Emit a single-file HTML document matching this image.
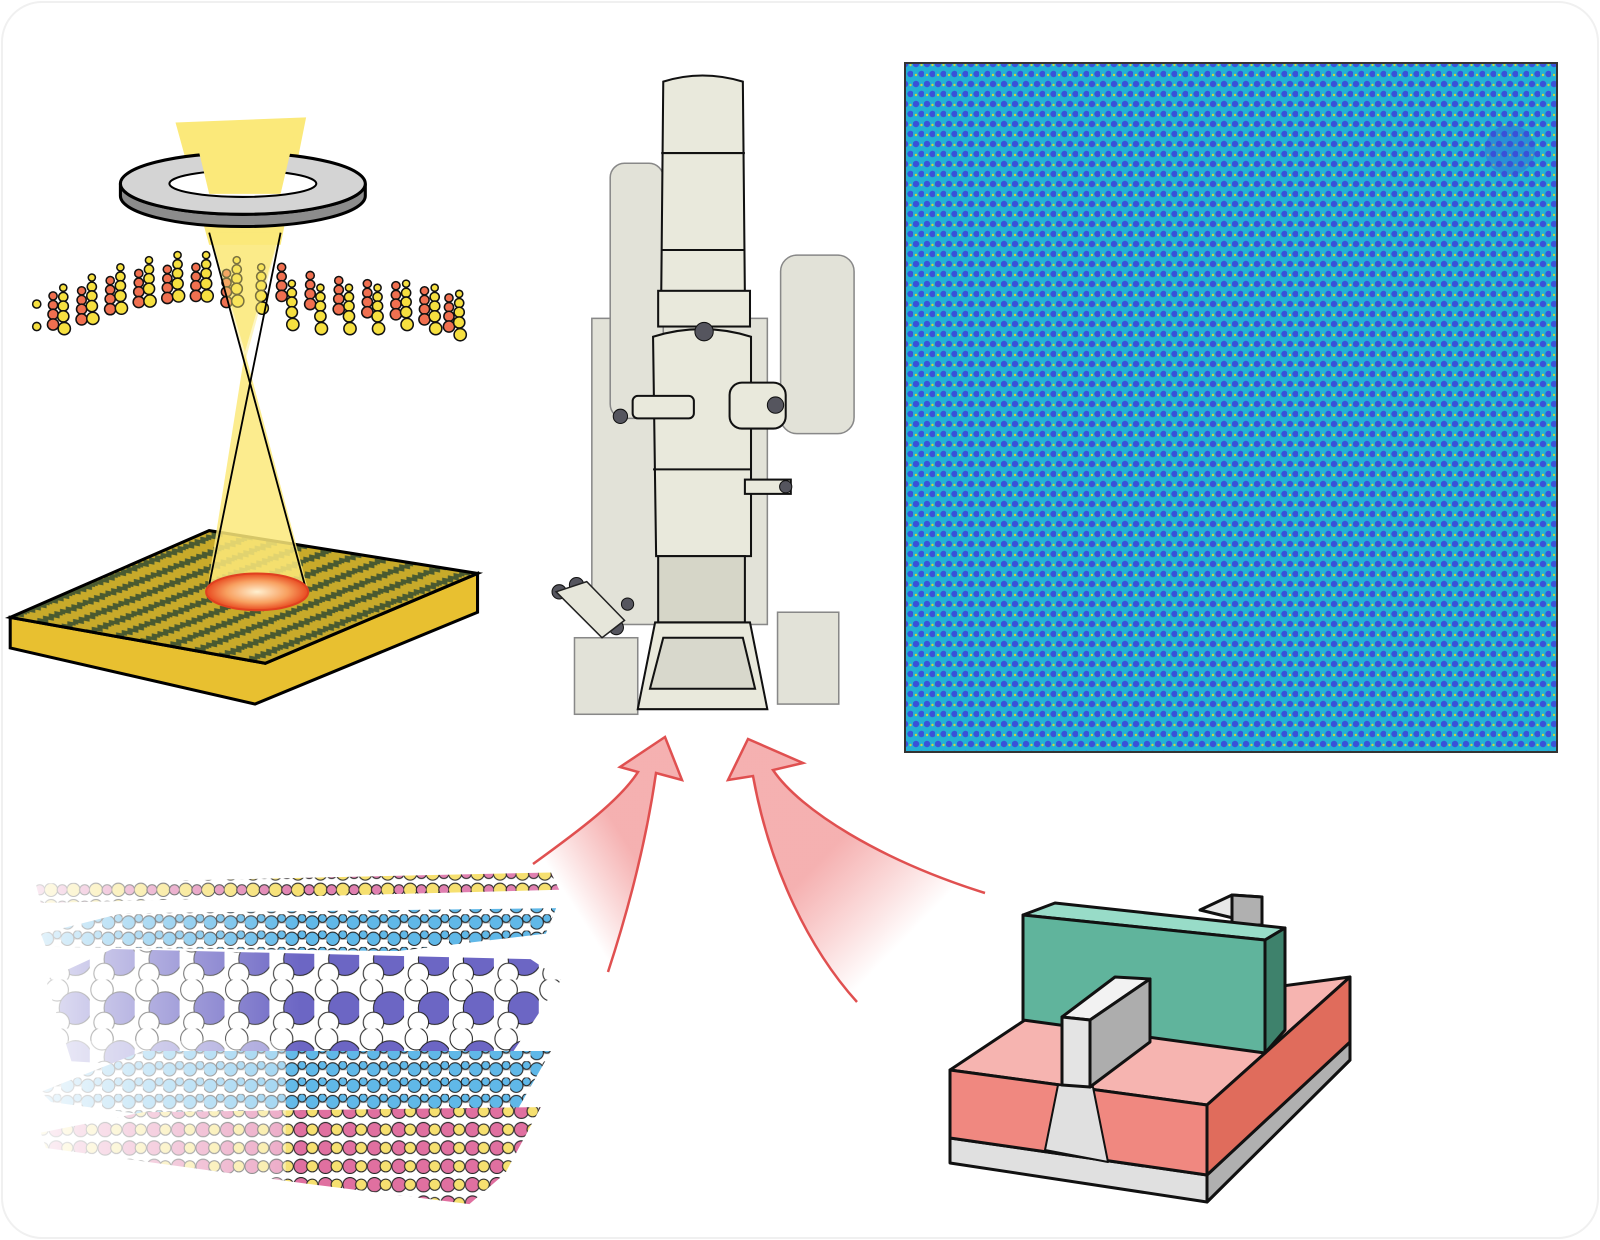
<!DOCTYPE html>
<html><head><meta charset="utf-8"><style>
html,body{margin:0;padding:0;background:#fff;width:1600px;height:1240px;overflow:hidden}
</style></head><body>
<svg width="1600" height="1240" viewBox="0 0 1600 1240" xmlns="http://www.w3.org/2000/svg">
<defs>
<pattern id="lat" width="11" height="20" patternUnits="userSpaceOnUse">
<rect width="11" height="20" fill="#22b0d6"/>
<circle cx="3" cy="4" r="3.2" fill="#3a52d8"/>
<circle cx="8.5" cy="14" r="3.2" fill="#3a52d8"/>
<circle cx="8.5" cy="5" r="1.2" fill="#c8d840"/>
<circle cx="3" cy="15" r="1.2" fill="#c8d840"/>
</pattern>
<pattern id="wave" width="24" height="14" patternUnits="userSpaceOnUse" patternTransform="rotate(-22) skewX(30)">
<rect width="24" height="14" fill="#c8aa2a"/>
<path d="M0 7 l3 -3 l3 3 l3 -3 l3 3 l3 -3 l3 3 l3-3 l3 3" stroke="#4a5a30" stroke-width="4" fill="none"/>
</pattern>
<linearGradient id="ar1" x1="0.1" y1="0.9" x2="0.8" y2="0.2"><stop offset="0.25" stop-color="#f4a0a0" stop-opacity="0"/><stop offset="0.7" stop-color="#f4a8a8" stop-opacity="0.9"/></linearGradient>
<linearGradient id="ar2" x1="0.9" y1="0.9" x2="0.2" y2="0.2"><stop offset="0.25" stop-color="#f4a0a0" stop-opacity="0"/><stop offset="0.7" stop-color="#f4a8a8" stop-opacity="0.9"/></linearGradient>
<radialGradient id="spot"><stop offset="0" stop-color="#fff0d0"/><stop offset="0.6" stop-color="#f8a060"/><stop offset="1" stop-color="#e84a20"/></radialGradient>
<g id="colR"><circle cx="0" cy="0" r="4" fill="#f07050"/><circle cx="0" cy="9" r="4.5" fill="#f07050"/><circle cx="0" cy="18" r="5" fill="#f07050"/><circle cx="0" cy="28" r="5.5" fill="#f07050"/></g>
<g id="colY"><circle cx="0" cy="0" r="3.5" fill="#f6e040"/><circle cx="0" cy="9" r="4.5" fill="#f6e040"/><circle cx="0" cy="18" r="5" fill="#f6e040"/><circle cx="0" cy="28" r="5.5" fill="#f6e040"/><circle cx="1" cy="40" r="6" fill="#f6e040"/></g>
<pattern id="pY" width="22" height="16" patternUnits="userSpaceOnUse"><rect width="22" height="16" fill="#fff"/><line x1="0" y1="8" x2="22" y2="8" stroke="#aaa" stroke-width="2"/><circle cx="6" cy="8" r="6.5" fill="#f6e070" stroke="#222"/><circle cx="17" cy="8" r="5" fill="#e080b0" stroke="#222"/></pattern>
<pattern id="pB" width="20" height="16" patternUnits="userSpaceOnUse"><rect width="20" height="16" fill="#fff"/><line x1="0" y1="8" x2="20" y2="8" stroke="#aaa" stroke-width="2"/><circle cx="6" cy="8" r="6.5" fill="#60b8e8" stroke="#222"/><circle cx="16" cy="4" r="4" fill="#60b8e8" stroke="#222"/></pattern>
<pattern id="pP" width="44" height="48" patternUnits="userSpaceOnUse"><rect width="44" height="48" fill="#fff"/><line x1="12" y1="10" x2="30" y2="28" stroke="#777" stroke-width="3"/><line x1="30" y1="28" x2="16" y2="42" stroke="#777" stroke-width="3"/><circle cx="12" cy="10" r="11" fill="#fff" stroke="#222"/><circle cx="30" cy="28" r="16" fill="#6c66c4" stroke="#222"/><circle cx="14" cy="42" r="10" fill="#fff" stroke="#222"/></pattern>
<pattern id="pK" width="24" height="18" patternUnits="userSpaceOnUse"><rect width="24" height="18" fill="#fff"/><line x1="0" y1="9" x2="24" y2="9" stroke="#aaa" stroke-width="2"/><circle cx="7" cy="9" r="7" fill="#e070a0" stroke="#222"/><circle cx="18" cy="9" r="5.5" fill="#f6e070" stroke="#222"/></pattern>
<linearGradient id="fadeL" x1="0" y1="0" x2="1" y2="0"><stop offset="0" stop-color="#fff" stop-opacity="0.85"/><stop offset="0.5" stop-color="#fff" stop-opacity="0"/></linearGradient>
</defs>
<rect x="2" y="2" width="1596" height="1236" rx="40" fill="#fff" stroke="#f0f0f0" stroke-width="2"/>

<rect x="905" y="63" width="652" height="689" fill="url(#lat)" stroke="#333" stroke-width="2"/>
<ellipse cx="1510" cy="150" rx="25" ry="25" fill="#3a52d8" opacity="0.35"/>

<g transform="scale(1.0204)">
<polygon points="10,605 10,635 250,690 468,600 468,562 260,650" fill="#e8c030" stroke="#000" stroke-width="3"/>
<polygon points="10,605 205,520 468,562 260,650" fill="url(#wave)" stroke="#000" stroke-width="3"/>
<polygon points="172,120 300,115 275,240 205,240" fill="#fbe97a"/>
<path d="M118 180 a120 30 0 0 0 240 0 l0 12 a120 30 0 0 1 -240 0 z" fill="#8c8c8c" stroke="#000" stroke-width="3"/>
<ellipse cx="238" cy="180" rx="120" ry="30" fill="#d4d4d4" stroke="#000" stroke-width="3"/>
<ellipse cx="238" cy="180" rx="72" ry="13" fill="#fff" stroke="#000" stroke-width="2"/>
<polygon points="190,128 290,126 275,190 205,190" fill="#fbe97a"/>
<polygon points="205,225 275,225 240,345" fill="#fbe97a" opacity="0.8"/>
<polygon points="240,345 203,578 302,578" fill="#fbe97a" opacity="0.85"/>
<g stroke="#111" stroke-width="1.5">
<use href="#colR" x="52" y="290"/><use href="#colY" x="62" y="282"/>
<use href="#colR" x="80" y="285"/><use href="#colY" x="90" y="272"/>
<use href="#colR" x="108" y="275"/><use href="#colY" x="118" y="262"/>
<use href="#colR" x="136" y="268"/><use href="#colY" x="146" y="255"/>
<use href="#colR" x="164" y="264"/><use href="#colY" x="174" y="250"/>
<use href="#colR" x="192" y="262"/><use href="#colY" x="202" y="250"/>
<use href="#colR" x="222" y="268"/><use href="#colY" x="232" y="255"/>
<use href="#colY" x="256" y="262"/><use href="#colR" x="276" y="262"/><use href="#colY" x="286" y="278"/>
<use href="#colR" x="304" y="270"/><use href="#colY" x="314" y="282"/>
<use href="#colR" x="332" y="275"/><use href="#colY" x="342" y="282"/>
<use href="#colR" x="360" y="278"/><use href="#colY" x="370" y="282"/>
<use href="#colR" x="388" y="280"/><use href="#colY" x="398" y="278"/>
<use href="#colR" x="416" y="285"/><use href="#colY" x="426" y="282"/>
<use href="#colR" x="440" y="292"/><use href="#colY" x="450" y="288"/>
<circle cx="36" cy="298" r="4" fill="#f6e040"/><circle cx="36" cy="320" r="4" fill="#f6e040"/>
</g>
<polygon points="205,228 275,228 240,355" fill="#fbe97a" opacity="0.45"/>
<line x1="205" y1="228" x2="300" y2="578" stroke="#000" stroke-width="1.8"/>
<line x1="275" y1="228" x2="204" y2="578" stroke="#000" stroke-width="1.8"/>
<ellipse cx="252" cy="580" rx="50" ry="18" fill="url(#spot)" stroke="#e04020" stroke-width="2"/>

<g stroke="#888" stroke-width="1.5" fill="#e2e2d8">
<rect x="580" y="312" width="172" height="300"/>
<rect x="598" y="160" width="52" height="250" rx="14"/>
<rect x="765" y="250" width="72" height="175" rx="16"/>
<rect x="762" y="600" width="60" height="90"/>
<rect x="563" y="625" width="62" height="75"/>
</g>
<g stroke="#111" stroke-width="2" fill="#e9e9dc">
<path d="M650 80 Q688 68 728 80 L730 290 L648 290 Z"/>
<line x1="648" y1="150" x2="730" y2="150"/><line x1="648" y1="245" x2="730" y2="245"/>
<rect x="645" y="285" width="90" height="35"/>
<path d="M640 330 Q688 315 736 330 L736 545 L643 545 Z"/>
<line x1="640" y1="460" x2="736" y2="460"/>
<rect x="645" y="545" width="85" height="65" fill="#d6d6c8"/>
<path d="M642 610 L735 610 L752 695 L625 695 Z"/>
<path d="M650 625 L728 625 L740 675 L637 675 Z" fill="#d8d8cc"/>
<rect x="715" y="375" width="55" height="45" rx="12"/>
<rect x="620" y="388" width="60" height="22" rx="5"/>
<rect x="730" y="470" width="45" height="14"/>
</g>
<g fill="#55555e" stroke="#111">
<circle cx="690" cy="325" r="9"/><circle cx="760" cy="397" r="8"/><circle cx="608" cy="408" r="7"/><circle cx="770" cy="477" r="6"/>
<circle cx="548" cy="580" r="7"/><circle cx="565" cy="573" r="7"/><circle cx="590" cy="615" r="7"/><circle cx="604" cy="615" r="7"/><circle cx="615" cy="592" r="6"/>
</g>
<polygon points="545,580 575,570 612,608 590,625" fill="#e6e6da" stroke="#222" stroke-width="1.5"/>

<polygon points="35,866 540,855 548,872 40,885" fill="url(#pY)"/>
<polygon points="40,915 120,895 545,890 535,915 390,932 45,928" fill="url(#pB)"/>
<polygon points="45,960 110,930 520,940 550,960 480,1065 70,1040" fill="url(#pP)"/>
<polygon points="40,1070 140,1030 540,1030 500,1100 470,1130 380,1125 50,1080" fill="url(#pB)"/>
<polygon points="40,1110 140,1090 530,1085 495,1150 460,1180 300,1160 45,1125" fill="url(#pK)"/>
<rect x="30" y="840" width="530" height="360" fill="url(#fadeL)"/>
<rect x="30" y="1020" width="250" height="160" fill="#fff" opacity="0.4"/>
</g>

<path d="M533 864 C 580 830, 620 800, 638 772 L620 767 L665 737 L682 780 L656 773 C 645 850, 625 920, 608 972 Z" fill="url(#ar1)"/>
<path d="M533 864 C 580 830, 620 800, 638 772 L620 767 L665 737 L682 780 L656 773 C 645 850, 625 920, 608 972" fill="none" stroke="#e05050" stroke-width="2.5"/>
<path d="M985 893 C 880 860, 800 810, 773 770 L803 763 L748 739 L728 780 L753 776 C 770 870, 810 950, 857 1002 Z" fill="url(#ar2)"/>
<path d="M985 893 C 880 860, 800 810, 773 770 L803 763 L748 739 L728 780 L753 776 C 770 870, 810 950, 857 1002" fill="none" stroke="#e05050" stroke-width="2.5"/>

<g stroke="#111" stroke-width="3" stroke-linejoin="round">
<polygon points="950,1138 1207,1175 1350,1042 1350,1060 1207,1202 950,1163" fill="#e0e0e0"/>
<polygon points="1207,1175 1350,1042 1350,1060 1207,1202" fill="#b0b0b0"/>
<polygon points="1200,910 1232,895 1262,897 1262,925" fill="#e8e8e8"/>
<polygon points="1232,895 1262,897 1262,925 1232,925" fill="#b0b0b0"/>
<polygon points="950,1070 1025,1020 1350,977 1207,1105" fill="#f6b4b0"/>
<polygon points="950,1070 1207,1105 1207,1175 950,1138" fill="#f08880"/>
<polygon points="1207,1105 1350,977 1350,1042 1207,1175" fill="#e06c5c"/>
<polygon points="1058,1085 1093,1087 1108,1162 1045,1150" fill="#e0e0e0" stroke-width="2"/>
<polygon points="1023,915 1055,903 1285,928 1265,940" fill="#98dcc8"/>
<polygon points="1023,915 1265,940 1265,1053 1023,1020" fill="#60b49c"/>
<polygon points="1265,940 1285,928 1285,1030 1265,1053" fill="#3e826c"/>
<polygon points="1062,1017 1115,977 1150,979 1090,1020" fill="#f2f2f2"/>
<polygon points="1090,1020 1150,979 1150,1042 1090,1087" fill="#adadad"/>
<polygon points="1062,1017 1090,1020 1090,1087 1062,1085" fill="#e4e4e4"/>
</g>
</svg>
</body></html>
